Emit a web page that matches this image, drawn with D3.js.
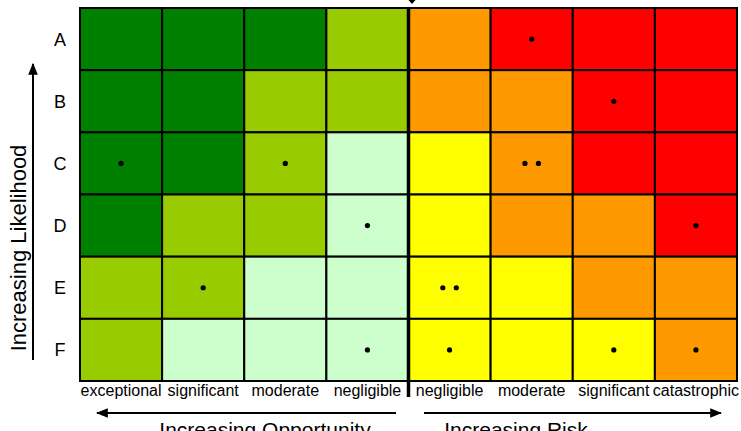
<!DOCTYPE html>
<html>
<head>
<meta charset="utf-8">
<script src="https://cdn.jsdelivr.net/npm/d3@7"></script>
<style>
  html, body { margin: 0; padding: 0; background: #fff; }
  svg { display: block; font-family: "Liberation Sans", Arial, sans-serif; }
</style>
</head>
<body>
<svg id="chart" width="741" height="431"></svg>
<script>
// Likelihood rows (top = most likely) and consequence columns
const rows = ["A", "B", "C", "D", "E", "F"];
const columns = ["o-exceptional", "o-significant", "o-moderate", "o-negligible",
                 "r-negligible", "r-moderate", "r-significant", "r-catastrophic"];
const columnLabels = ["exceptional", "significant", "moderate", "negligible",
                      "negligible", "moderate", "significant", "catastrophic"];

// Rating per cell: 1 strong opportunity … 6 severe risk
const ratingA = [1, 1, 1, 2, 5, 6, 6, 6];
const ratingB = [1, 1, 2, 2, 5, 5, 6, 6];
const ratingC = [1, 1, 2, 3, 4, 5, 6, 6];
const ratingD = [1, 2, 2, 3, 4, 5, 5, 6];
const ratingE = [2, 2, 3, 3, 4, 4, 5, 5];
const ratingF = [2, 3, 3, 3, 4, 4, 4, 5];
const ratings = [ratingA, ratingB, ratingC, ratingD, ratingE, ratingF];

// Number of items plotted in each cell
const countA = [0, 0, 0, 0, 0, 1, 0, 0];
const countB = [0, 0, 0, 0, 0, 0, 1, 0];
const countC = [1, 0, 1, 0, 0, 2, 0, 0];
const countD = [0, 0, 0, 1, 0, 0, 0, 1];
const countE = [0, 1, 0, 0, 2, 0, 0, 0];
const countF = [0, 0, 0, 1, 1, 0, 1, 1];
const counts = [countA, countB, countC, countD, countE, countF];

const ratingColors = ["#008000", "#99cc00", "#ccffcc", "#ffff00", "#ff9900", "#ff0000"];

const svg = d3.select("#chart");
const x = d3.scaleBand().domain(columns).range([80, 737]);
const y = d3.scaleBand().domain(rows).range([8, 381]);
const color = d3.scaleOrdinal().domain([1, 2, 3, 4, 5, 6]).range(ratingColors);

const cells = [];
rows.forEach((r, i) => columns.forEach((c, j) => {
  cells.push({ row: r, col: c, rating: ratings[i][j], count: counts[i][j] });
}));

// Cells
svg.append("g").selectAll("rect").data(cells).join("rect")
  .attr("x", d => x(d.col))
  .attr("y", d => y(d.row))
  .attr("width", x.bandwidth())
  .attr("height", y.bandwidth())
  .attr("fill", d => color(d.rating))
  .attr("stroke", "#000")
  .attr("stroke-width", 2);

// Item markers
const dots = [];
cells.forEach(d => {
  for (let k = 0; k < d.count; k++) {
    const off = d.count === 1 ? 0 : (k - (d.count - 1) / 2) * 13.5;
    dots.push({ cx: x(d.col) + x.bandwidth() / 2 + off, cy: y(d.row) + y.bandwidth() / 2 });
  }
});
svg.append("g").selectAll("circle").data(dots).join("circle")
  .attr("cx", d => d.cx).attr("cy", d => d.cy).attr("r", 2.6).attr("fill", "#000");

// Divider between opportunity and risk halves
const split = x("r-negligible");
svg.append("line")
  .attr("x1", split).attr("x2", split)
  .attr("y1", 7).attr("y2", 397)
  .attr("stroke", "#000").attr("stroke-width", 3.5);
svg.append("path")
  .attr("d", `M${split},0 L${split + 7},0 L${split + 3.5},4 Z`)
  .attr("fill", "#000");

// Row labels
svg.append("g").selectAll("text").data(rows).join("text")
  .attr("x", 60).attr("y", d => y(d) + y.bandwidth() / 2 + 6.5)
  .attr("text-anchor", "middle").attr("font-size", 18).attr("fill", "#000")
  .text(d => d);

// Column labels
svg.append("g").selectAll("text").data(columns).join("text")
  .attr("x", d => x(d) + x.bandwidth() / 2).attr("y", 396)
  .attr("text-anchor", "middle").attr("font-size", 16).attr("fill", "#000")
  .text((d, i) => columnLabels[i]);

// Arrowheads
const defs = svg.append("defs");
defs.append("marker").attr("id", "head")
  .attr("viewBox", "0 0 10 10").attr("refX", 9).attr("refY", 5)
  .attr("markerWidth", 6).attr("markerHeight", 6).attr("orient", "auto")
  .attr("markerUnits", "strokeWidth")
  .append("path").attr("d", "M0,1 L10,5 L0,9 Z").attr("fill", "#000");

// Likelihood arrow
svg.append("line").attr("x1", 33).attr("x2", 33).attr("y1", 360).attr("y2", 64)
  .attr("stroke", "#000").attr("stroke-width", 2).attr("marker-end", "url(#head)");
svg.append("text")
  .attr("transform", "translate(26,248) rotate(-90)")
  .attr("text-anchor", "middle").attr("font-size", 22).attr("fill", "#000")
  .text("Increasing Likelihood");

// Opportunity and risk arrows
svg.append("line").attr("x1", 396).attr("x2", 97).attr("y1", 413).attr("y2", 413)
  .attr("stroke", "#000").attr("stroke-width", 2).attr("marker-end", "url(#head)");
svg.append("line").attr("x1", 424).attr("x2", 721).attr("y1", 413).attr("y2", 413)
  .attr("stroke", "#000").attr("stroke-width", 2).attr("marker-end", "url(#head)");
svg.append("text").attr("x", 265).attr("y", 437).attr("text-anchor", "middle")
  .attr("font-size", 21).attr("fill", "#000").text("Increasing Opportunity");
svg.append("text").attr("x", 516).attr("y", 437).attr("text-anchor", "middle")
  .attr("font-size", 21).attr("fill", "#000").text("Increasing Risk");
</script>
</body>
</html>
